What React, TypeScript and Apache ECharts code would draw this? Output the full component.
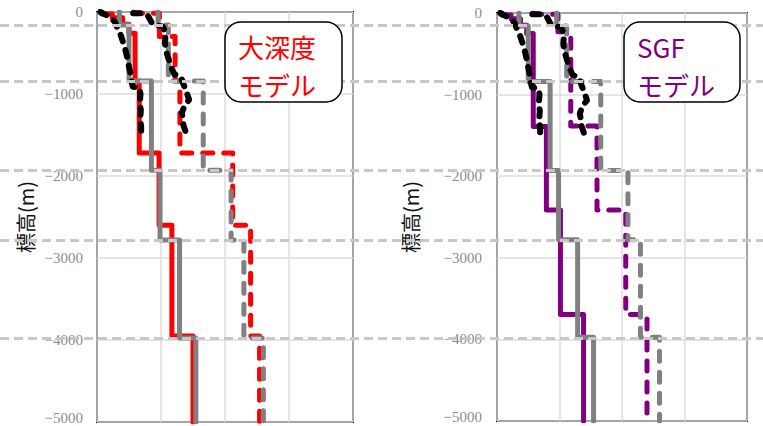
import React, { useEffect, useRef } from "react";
import * as echarts from "echarts";

// ---- data (velocity m/s, elevation m) ----
const xTicks = [0, 2000, 4000, 6000, 8000];
const yTicks = [0, -1000, -2000, -3000, -4000, -5000];

// reference (gray) model, shared by both panels
const grayBounds = [0, -160, -840, -1930, -2780, -3975, -5000];
const grayVs = [700, 1000, 1700, 1970, 2580, 3090];
const grayVp = [1910, 2230, 3320, 4190, 4590, 5200];

// 大深度モデル (red)
const deepVsBounds = [0, -25, -70, -150, -260, -840, -1720, -2600, -3950, -5000];
const deepVs = [150, 480, 800, 1000, 1190, 1320, 1940, 2340, 3000];
const deepVpBounds = [0, -15, -300, -840, -1720, -2600, -3950, -5000];
const deepVp = [1150, 1950, 2440, 2590, 4240, 4800, 5080];

// SGFモデル (purple)
const sgfVsBounds = [0, -25, -70, -150, -250, -1390, -2415, -3695, -5000];
const sgfVs = [150, 450, 750, 950, 1160, 1580, 2030, 2770];
const sgfVpBounds = [0, -15, -230, -1385, -2415, -3695, -5000];
const sgfVp = [1150, 1950, 2360, 3200, 4120, 4800];

// logging (black)
const logVsDepth = [0, -60, -120, -180, -256, -350, -450, -549, -650, -744, -850, -910, -930, -1000, -1100, -1200, -1300, -1400, -1470];
const logVsVel = [100, 400, 560, 620, 720, 800, 880, 940, 990, 1040, 1080, 1120, 1330, 1360, 1340, 1370, 1350, 1380, 1380];
const logVpDepth = [-14, -14, -50, -110, -160, -175, -260, -380, -500, -600, -700, -760, -790, -880, -980, -1070, -1130, -1230, -1300, -1380, -1470];
const logVpVel = [1130, 1480, 1600, 1680, 1760, 2050, 2150, 2120, 2180, 2260, 2350, 2420, 2620, 2700, 2800, 2880, 2750, 2650, 2680, 2700, 2780];

const boundaryDepths = grayBounds.slice(1, -1);

function steps(bounds: number[], vals: number[]): number[][] {
  const pts: number[][] = [];
  for (let i = 0; i < vals.length; i++) {
    pts.push([vals[i], bounds[i]]);
    pts.push([vals[i], bounds[i + 1]]);
  }
  return pts;
}
function zipLog(depth: number[], vel: number[]): number[][] {
  return depth.map((d, i) => [vel[i], d]);
}

const RED = "#ff0000";
const PURPLE = "#800080";
const GRAY = "#808080";
const BLACK = "#000000";

function lineSeries(data: number[][], color: string, dash: any, idx: number, z: number, width: number) {
  return {
    type: "line",
    xAxisIndex: idx,
    yAxisIndex: idx,
    data,
    showSymbol: false,
    symbol: "none",
    silent: true,
    z,
    lineStyle: { color, width, type: dash, cap: "round", join: "round" },
  };
}

function panelSeries(idx: number, color: string, vsB: number[], vs: number[], vpB: number[], vp: number[]) {
  const colDash = [10, 11];
  const blackDash = [7, 9];
  return [
    lineSeries(steps(vsB, vs), color, "solid", idx, 2, 5),
    lineSeries(steps(vpB, vp), color, colDash, idx, 2, 5),
    lineSeries(steps(grayBounds, grayVs), GRAY, "solid", idx, 3, 5),
    lineSeries(steps(grayBounds, grayVp), GRAY, colDash, idx, 3, 5),
    lineSeries(zipLog(logVsDepth, logVsVel), BLACK, blackDash, idx, 4, 6),
    lineSeries(zipLog(logVpDepth, logVpVel), BLACK, blackDash, idx, 4, 6),
  ];
}

const serif = "'Liberation Serif', 'DejaVu Serif', serif";
const jp = "'Noto Sans CJK JP', 'Noto Sans', sans-serif";

function xAxis(idx: number) {
  return {
    type: "value",
    gridIndex: idx,
    position: "top",
    min: xTicks[0],
    max: xTicks[xTicks.length - 1],
    interval: xTicks[1] - xTicks[0],
    axisLine: { show: false },
    axisTick: { show: false },
    axisLabel: { show: false },
    splitLine: { show: true, lineStyle: { color: "#dcdcdc", width: 1.5 } },
  };
}

const labelStyle = { color: "#8c8c8c", fontFamily: serif, fontSize: 15 };
const lastTick = yTicks[yTicks.length - 1];

function yAxis(idx: number, nameGap: number, margin: number) {
  return {
    type: "value",
    gridIndex: idx,
    min: lastTick,
    max: yTicks[0],
    interval: 1000,
    name: "標高(m)",
    nameLocation: "middle",
    nameGap,
    nameTextStyle: { color: "#111", fontFamily: jp, fontSize: 20 },
    axisLine: { show: false },
    axisTick: { show: false },
    axisLabel: {
      margin,
      ...labelStyle,
      formatter: (v: number) => {
        const s = String(v).replace("-", "\u2212");
        return v === lastTick ? "{e|" + s + "}" : s;
      },
      rich: { e: { ...labelStyle, padding: [0, 0, 9, 0] } },
    },
    splitLine: { show: true, lineStyle: { color: "#dcdcdc", width: 1.5 } },
  };
}

function legendBox(x: number, w: number, text: string, color: string) {
  return [
    {
      type: "rect",
      z: 100,
      shape: { x, y: 22, width: w, height: 80, r: 16 },
      style: { fill: "#ffffff", stroke: "#000000", lineWidth: 1.5 },
    },
    {
      type: "text",
      z: 101,
      x: x + 13,
      y: 27,
      style: {
        text,
        fill: color,
        fontSize: 26,
        fontFamily: jp,
        lineHeight: 38,
        align: "left",
        verticalAlign: "top",
      },
    },
  ];
}

export default function App() {
  const ref = useRef<HTMLDivElement>(null);
  useEffect(() => {
    if (!ref.current) return;
    const chart = echarts.init(ref.current, undefined, { renderer: "svg" });
    const option: any = {
      animation: false,
      backgroundColor: "#ffffff",
      grid: [
        { left: 97, width: 256, top: 12, height: 410, show: true, borderColor: "#000", borderWidth: 2, backgroundColor: "transparent", containLabel: false, outerBoundsMode: "none" },
        { left: 497, width: 250, top: 13, height: 408, show: true, borderColor: "#000", borderWidth: 2, backgroundColor: "transparent", containLabel: false, outerBoundsMode: "none" },
        { left: 0, right: 0, top: 12, height: 410, show: false, outerBoundsMode: "none" },
      ],
      xAxis: [
        xAxis(0),
        xAxis(1),
        { type: "value", gridIndex: 2, min: 0, max: 1, show: false },
      ],
      yAxis: [
        yAxis(0, 62, 14),
        yAxis(1, 77, 15),
        { type: "value", gridIndex: 2, min: lastTick, max: yTicks[0], show: false },
      ],
      series: [
        ...panelSeries(0, RED, deepVsBounds, deepVs, deepVpBounds, deepVp),
        ...panelSeries(1, PURPLE, sgfVsBounds, sgfVs, sgfVpBounds, sgfVp),
        {
          type: "line",
          xAxisIndex: 2,
          yAxisIndex: 2,
          data: [],
          silent: true,
          z: 20,
          markLine: {
            silent: true,
            z: 20,
            symbol: ["none", "none"],
            label: { show: false },
            lineStyle: { color: "#c8c8c8", width: 3, type: [9, 5] },
            data: boundaryDepths.map((d) => ({ yAxis: d })),
          },
        },
      ],
      graphic: [
        ...legendBox(225, 117, "大深度\nモデル", RED),
        ...legendBox(624, 116, "SGF\nモデル", PURPLE),
      ],
    };
    chart.setOption(option);
    return () => chart.dispose();
  }, []);
  return (
    <div
      ref={ref}
      style={{ position: "fixed", left: 0, top: 0, width: 763, height: 426 }}
    />
  );
}
